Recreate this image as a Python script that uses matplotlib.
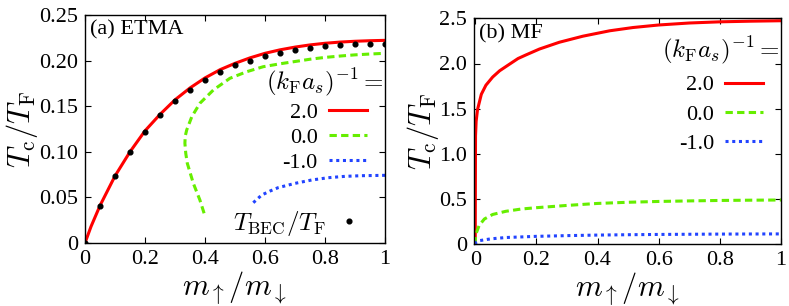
import matplotlib
matplotlib.use("Agg")
import matplotlib.pyplot as plt
from matplotlib.lines import Line2D

plt.rcParams['font.family'] = ['Liberation Serif', 'DejaVu Serif']
plt.rcParams['mathtext.fontset'] = 'cm'

# ---------------- data: panel (a) ETMA ----------------
a_red_x = [0, 0.02, 0.05, 0.1, 0.15, 0.2, 0.25, 0.3, 0.35, 0.4, 0.45, 0.5, 0.55,
           0.6, 0.65, 0.7, 0.75, 0.8, 0.85, 0.9, 0.95, 1.0]
a_red_y = [0, 0.018, 0.041, 0.0735, 0.1, 0.123, 0.141, 0.157, 0.170, 0.181, 0.190,
           0.197, 0.203, 0.208, 0.2118, 0.2148, 0.2172, 0.219, 0.2203, 0.2212, 0.2218, 0.2222]

a_green_x = [0.397, 0.383, 0.361, 0.341, 0.336, 0.333, 0.334, 0.339, 0.356, 0.383, 0.428,
             0.483, 0.539, 0.594, 0.65, 0.70, 0.75, 0.80, 0.85, 0.90, 0.95, 1.0]
a_green_y = [0.0326, 0.0471, 0.0655, 0.0874, 0.098, 0.1093, 0.117, 0.1239, 0.1385, 0.1532,
             0.1678, 0.1806, 0.1878, 0.1933, 0.1965, 0.199, 0.2015, 0.2035, 0.205, 0.2063,
             0.2072, 0.208]

a_blue_x = [0.561, 0.589, 0.617, 0.644, 0.70, 0.756, 0.811, 0.867, 0.922, 1.0]
a_blue_y = [0.0442, 0.0526, 0.057, 0.0607, 0.0654, 0.0691, 0.0716, 0.0731, 0.0738, 0.0742]

bec_x = [0, 0.05, 0.1, 0.15, 0.2, 0.25, 0.3, 0.35, 0.4, 0.45, 0.5, 0.55, 0.6, 0.65,
         0.7, 0.75, 0.8, 0.85, 0.9, 0.95, 1.0]
bec_y = [0, 0.0406, 0.0735, 0.0994, 0.122, 0.140, 0.156, 0.168, 0.179, 0.1875, 0.195,
         0.200, 0.205, 0.2087, 0.2116, 0.214, 0.216, 0.217, 0.2177, 0.218, 0.2183]

# ---------------- data: panel (b) MF ----------------
b_red_x = [0, 0.001, 0.003, 0.0075, 0.02, 0.035, 0.057, 0.08, 0.111, 0.14, 0.166, 0.21,
           0.275, 0.352, 0.44, 0.516, 0.6, 0.7, 0.8, 0.9, 1.0]
b_red_y = [0, 1.2, 1.36, 1.49, 1.66, 1.76, 1.85, 1.92, 1.99, 2.055, 2.095, 2.16, 2.235,
           2.302, 2.362, 2.398, 2.426, 2.448, 2.461, 2.468, 2.473]

b_green_x = [0, 0.001, 0.003, 0.013, 0.03, 0.057, 0.1, 0.15, 0.2, 0.3, 0.4, 0.5, 0.6,
             0.7, 0.8, 0.9, 1.0]
b_green_y = [0, 0.08, 0.12, 0.21, 0.28, 0.33, 0.365, 0.39, 0.405, 0.43, 0.452, 0.465,
             0.474, 0.48, 0.485, 0.488, 0.49]

b_blue_x = [0, 0.002, 0.013, 0.05, 0.1, 0.2, 0.3, 0.4, 0.5, 0.6, 0.7, 0.8, 0.9, 1.0]
b_blue_y = [0, 0.02, 0.04, 0.06, 0.075, 0.088, 0.096, 0.102, 0.106, 0.109, 0.111, 0.113,
            0.114, 0.115]

series_labels = ['2.0', '0.0', '-1.0']
legend_title = r'$(k_{\rm F}a_s)^{-1}=$'
bec_label = r'$T_{\rm BEC}/T_{\rm F}$'
xticks = [0, 0.2, 0.4, 0.6, 0.8, 1.0]
xticklabels = ['0', '0.2', '0.4', '0.6', '0.8', '1']
a_yticks = [0, 0.05, 0.10, 0.15, 0.20, 0.25]
a_yticklabels = ['0', '0.05', '0.10', '0.15', '0.20', '0.25']
b_yticks = [0, 0.5, 1.0, 1.5, 2.0, 2.5]
b_yticklabels = ['0', '0.5', '1.0', '1.5', '2.0', '2.5']

RED = '#ff0000'
GREEN = '#66ee00'
BLUE = '#2244ff'
LW = 2.2

W, H = 789, 306
fig = plt.figure(figsize=(W / 100, H / 100), dpi=100)
ax1 = fig.add_axes([85 / W, 1 - 243 / H, 300 / W, 228 / H])
ax2 = fig.add_axes([474 / W, 1 - 244.3 / H, 307 / W, 226 / H])

styles = [dict(color=RED, lw=LW, ls='-'),
          dict(color=GREEN, lw=LW, ls=(0, (2.4, 1.4))),
          dict(color=BLUE, lw=LW, ls=(0, (1, 1.2)))]

# panel (a)
h = []
for (xs, ys), st in zip([(a_red_x, a_red_y), (a_green_x, a_green_y), (a_blue_x, a_blue_y)], styles):
    ln, = ax1.plot(xs, ys, **st)
    h.append(ln)
ax1.plot(bec_x, bec_y, 'o', color='black', ms=3.4, zorder=5)

# panel (b)
h2 = []
for (xs, ys), st in zip([(b_red_x, b_red_y), (b_green_x, b_green_y), (b_blue_x, b_blue_y)], styles):
    ln, = ax2.plot(xs, ys, **st)
    h2.append(ln)

for ax, yt, ytl, ylim, xlim in [(ax1, a_yticks, a_yticklabels, (0, 0.25), (0, 1)),
                                 (ax2, b_yticks, b_yticklabels, (0, 2.5), (-0.004, 1))]:
    ax.set_xlim(*xlim)
    ax.set_ylim(*ylim)
    ax.set_xticks(xticks)
    ax.set_xticklabels(xticklabels)
    ax.set_yticks(yt)
    ax.set_yticklabels(ytl)
    ax.tick_params(direction='in', top=True, right=True, length=4, width=0.8,
                   labelsize=16, pad=5)
    for sp in ax.spines.values():
        sp.set_linewidth(1.0)
    ax.set_xlabel(r'$m_{\uparrow}/m_{\downarrow}$', fontsize=22, labelpad=0)
    ax.set_ylabel(r'$T_{\rm c}/T_{\rm F}$', fontsize=22, labelpad=-1)

ax1.text(0.015, 0.975, '(a) ETMA', transform=ax1.transAxes, fontsize=16,
         ha='left', va='top')
ax2.text(0.015, 0.975, '(b) MF', transform=ax2.transAxes, fontsize=16,
         ha='left', va='top')

leg1 = ax1.legend(h, series_labels, title=legend_title, markerfirst=False, frameon=False,
                  fontsize=16, title_fontsize=18, alignment='center', loc='upper right',
                  bbox_to_anchor=(0.995, 0.775), handlelength=1.7, handletextpad=0.5,
                  labelspacing=0.2, borderaxespad=0.0, borderpad=0.0)
ax1.add_artist(leg1)
bec_handle = Line2D([], [], marker='o', ls='none', color='black', ms=3.4)
ax1.legend([bec_handle], [bec_label], markerfirst=False, frameon=False,
           fontsize=18, loc='lower right', bbox_to_anchor=(0.927, 0.022), handlelength=1.1,
           handletextpad=0.4, borderpad=0.0, borderaxespad=0.0)

ax2.legend(h2, series_labels, title=legend_title, markerfirst=False, frameon=False,
           fontsize=16, title_fontsize=18, alignment='center', loc='upper right',
           bbox_to_anchor=(0.997, 0.93), handlelength=1.7, handletextpad=0.5,
           labelspacing=0.4, borderaxespad=0.0, borderpad=0.0)

fig.savefig('out.png', dpi=100)
